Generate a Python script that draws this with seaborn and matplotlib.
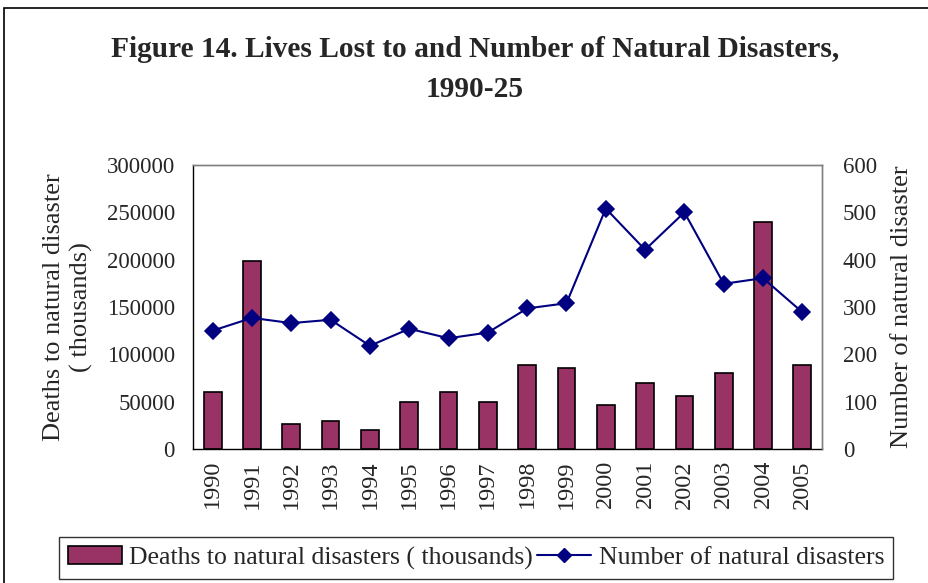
import matplotlib
matplotlib.use("Agg")
import matplotlib.pyplot as plt
import seaborn as sns
import pandas as pd
from matplotlib.patches import Rectangle, Patch
from matplotlib.lines import Line2D

# Data
years = ["1990", "1991", "1992", "1993", "1994", "1995", "1996", "1997",
         "1998", "1999", "2000", "2001", "2002", "2003", "2004", "2005"]
deaths = [60000, 199000, 26000, 30000, 20000, 50000, 60000, 50000,
          89000, 86000, 46000, 70000, 56000, 80000, 240000, 89000]
disasters = [250, 277, 266, 273, 218, 254, 234, 246,
             297, 308, 508, 421, 500, 349, 361, 289]
left_ticks = [0, 50000, 100000, 150000, 200000, 250000, 300000]
right_ticks = [0, 100, 200, 300, 400, 500, 600]

title_line1 = "Figure 14. Lives Lost to and Number of Natural Disasters,"
title_line2 = "1990-25"
left_label = "Deaths to natural disaster\n( thousands)"
right_label = "Number of natural disaster"
bar_legend = "Deaths to natural disasters ( thousands)"
line_legend = "Number of natural disasters"

BAR_COLOR = "#993366"
LINE_COLOR = "#000080"
SERIF = ["Liberation Serif", "DejaVu Serif"]

sns.set_style("white")
plt.rcParams["font.family"] = SERIF

df = pd.DataFrame({"year": years, "deaths": deaths, "disasters": disasters})

W, H = 929, 583
fig = plt.figure(figsize=(W / 100, H / 100), dpi=100)
x0, x1, y0, y1 = 193, 822, 165, 449
ax = fig.add_axes([x0 / W, 1 - y1 / H, (x1 - x0) / W, (y1 - y0) / H])

sns.barplot(data=df, x="year", y="deaths", ax=ax, color=BAR_COLOR,
            saturation=1, width=0.45, edgecolor="black", linewidth=1.2)
ax.set_ylim(0, 300000)
ax.set_yticks(left_ticks)
ax.set_yticklabels([str(t) for t in left_ticks])
ax.set_xlim(-0.5, len(years) - 0.5)
ax.set_xlabel("")
ax.set_ylabel(left_label, fontsize=19, linespacing=1.25, labelpad=10)
ax.tick_params(axis="y", length=0, pad=13, labelsize=16.5)
ax.tick_params(axis="x", length=0, pad=8, labelsize=17.5, rotation=90)

ax2 = ax.twinx()
sns.pointplot(data=df, x="year", y="disasters", ax=ax2, color=LINE_COLOR,
              markers="D", linestyles="-", markersize=8, linewidth=1.5)
ax2.set_ylim(0, 600)
ax2.set_yticks(right_ticks)
ax2.set_yticklabels([str(t) for t in right_ticks])
ax2.set_xlim(-0.5, len(years) - 0.5)
ax2.set_ylabel(right_label, fontsize=19, labelpad=10)
ax2.tick_params(axis="y", length=0, pad=15, labelsize=16.5)

for a in (ax, ax2):
    for side in ("top", "right"):
        a.spines[side].set_visible(True)
        a.spines[side].set_color("#808080")
        a.spines[side].set_linewidth(1.0)
    for side in ("left", "bottom"):
        a.spines[side].set_color("black")
        a.spines[side].set_linewidth(1.0)
ax2.spines["left"].set_visible(False)
ax2.spines["bottom"].set_visible(False)

# Title in two centred lines
fig.text(475 / W, 1 - 57 / H, title_line1, ha="center", va="baseline",
         fontsize=21.2, fontweight="bold")
fig.text(475 / W, 1 - 97 / H, title_line2, ha="center", va="baseline",
         fontsize=21.2, fontweight="bold")

# Legend
handles = [
    Patch(facecolor=BAR_COLOR, edgecolor="black", linewidth=1.2),
    Line2D([0], [0], color=LINE_COLOR, marker="D", markersize=7, linewidth=1.5),
]
leg = fig.legend(handles, [bar_legend, line_legend], loc="center",
                 bbox_to_anchor=(476 / W, 1 - 558 / H), ncol=2, fontsize=18.5,
                 frameon=True, fancybox=False, edgecolor="black",
                 handlelength=2.1, handletextpad=0.3, columnspacing=0.15,
                 borderpad=0.35)
leg.get_frame().set_linewidth(1.0)

# Outer chart frame
fig.patches.append(Rectangle((4 / W, -0.05), 1.1, 1 - 8 / H + 0.05,
                             transform=fig.transFigure, fill=False,
                             edgecolor="black", linewidth=1.2))

fig.savefig("out.png", dpi=100)
